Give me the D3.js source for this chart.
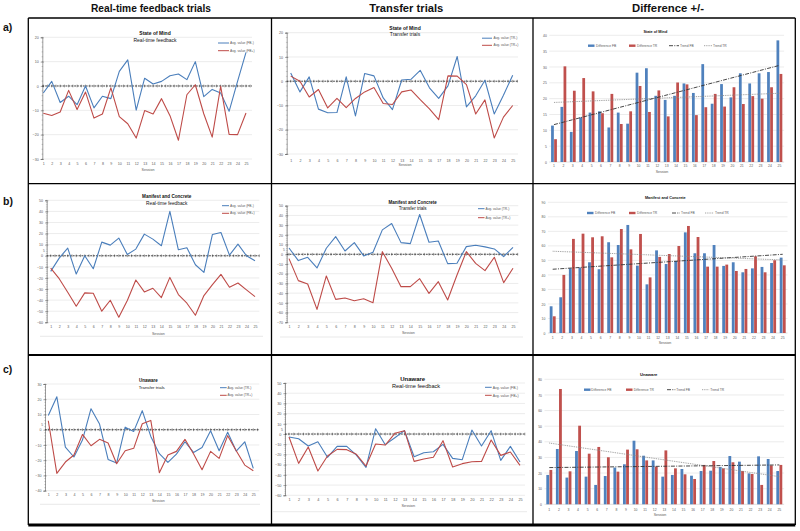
<!DOCTYPE html>
<html><head><meta charset="utf-8">
<script src="https://cdn.jsdelivr.net/npm/d3@7"></script>
<style>
body{margin:0;background:#fff}
svg{display:block}
text{font-family:"Liberation Sans",Arial,sans-serif}
</style>
</head><body>
<svg id="c" width="800" height="531"></svg>
<script>
// ---------------- DATA ----------------
const sessions = [1,2,3,4,5,6,7,8,9,10,11,12,13,14,15,16,17,18,19,20,21,22,23,24,25];
const columnHeaders = ["Real-time feedback trials","Transfer trials","Difference +/-"];
const rowLabels = ["a)","b)","c)"];

// a) State of Mind
const somFBneg = [-2.9,1.9,-6.8,-4.2,-7.7,0,-9.0,-4.2,-5.2,6.0,10.7,-9.9,3.2,0.8,1.9,4.2,4.9,2.6,10,-4.4,-1.4,-2.9,-10.4,1.9,13.8];
const somFBpos = [-11.2,-12.1,-10.7,-1.8,-9.7,-2.5,-13.2,-11.5,-0.8,-12.6,-15.5,-21.4,-10.1,-11.5,-5.2,-12.2,-22.3,-3.6,0.5,-11.4,-21.0,-0.1,-19.9,-20,-11.1];
const somTRneg = [3.4,-4.4,1.8,-11.5,-13.0,-12.9,1.8,-14.3,3.2,2.2,-6.9,-11.7,0.5,0.8,4.5,-2.7,-7.1,-1.9,10.2,-10.6,-6.0,0.4,-13.5,-5.8,2.5];
const somTRpos = [2.1,0,-6.5,-3.4,-11.0,-7.1,-10.9,-7.1,-4.4,-2.6,-9.2,-9.6,-4.4,-3.6,-7.6,-11.4,-15.8,2.2,2.1,-1.4,-13.5,-7.7,-23.4,-14.8,-10.0];
const somDiffFB = [11.5,17.4,9.5,14.1,15.6,16.0,10.9,15.6,12.1,28.2,29.6,20.9,19.6,20.9,24.8,21.8,30.9,18.4,24.6,20.4,28.0,24.8,28.0,28.4,38.4];
const somDiffTR = [7.2,30.2,22.5,26.5,22.3,15.4,21.5,12.0,16.0,24.0,15.8,22.6,14.4,25.1,24.5,14.8,17.3,21.5,17.5,23.6,18.3,20.8,20.0,23.6,27.8];
const somTrendFB = [11.8,30.5];
const somTrendTR = [18.8,21.7];

// b) Manifest and Concrete
const mcFBneg = [-14.1,-2.1,6.9,-16.5,0,-11.7,12.3,9.6,15.9,1.2,6.0,19.5,15.0,9.0,40.1,5.4,7.2,-8.1,-15.0,19.2,21.0,0.6,10.5,0,-4.5];
const mcFBpos = [-11.1,-20.7,-32.9,-45.5,-33.5,-33.8,-50,-40.1,-55.4,-40.4,-21.9,-32.6,-29.3,-37.7,-19.5,-35.0,-42.8,-53.6,-35.9,-26.0,-16.8,-28.4,-24.6,-30.8,-36.8];
const mcTRneg = [6.5,-6.5,-3.1,-14.1,6.2,18.2,3.4,12.0,-1.7,2.1,25.1,31.6,12.0,11.0,40.9,12.4,13.7,-9.6,-9.3,7.9,9.3,7.6,5.5,-2.4,7.2];
const mcTRpos = [-4.5,-27.1,-30.6,-56.7,-22.3,-46.4,-45.0,-47.8,-45.7,-49.8,2.7,-14.4,-33.3,-33.3,-25.1,-40.2,-28.2,-47.1,-21.3,2.7,-9.3,-16.8,-3.1,-29.2,-14.4];
const mcDiffFB = [18.4,24.6,44.5,45.0,48.7,43.9,62.5,60.6,74.4,46.4,33.5,56.9,47.5,49.6,69.3,54.9,54.9,60.6,46.2,48.7,41.8,44.5,45.5,48.2,51.9];
const mcDiffTR = [11.5,40.0,64.8,68.4,65.9,66.6,52.1,71.6,57.6,68.2,38.3,52.4,54.4,59.9,73.7,66.1,45.7,45.7,47.1,42.7,44.1,52.8,41.8,50.1,46.6];
const mcTrendFB = [43.9,54.2];
const mcTrendTR = [56.3,50.3];

// c) Unaware
const unTRneg = [9.4,21.6,-11.4,-17.9,-6.8,13.8,3.7,-19.5,-21.9,1.7,-1.1,12.5,-4.4,-15.7,-21.4,-16.0,-7.9,-14.9,-11.6,-0.7,-13.8,-1.7,-14.0,-7.9,-25.4];
const unTRpos = [5.9,-28.6,-21.2,-16.6,-3.1,-10.5,-6.3,-8.7,-22.3,-13.8,-12.2,3.9,6.1,-28.2,-16.6,-14.2,-6.3,-15.7,-26.2,-14.2,-18.8,-3.9,-13.8,-23.2,-26.9];
const unFBneg = [-2.9,-4.6,-11.7,-7.5,-22.8,-12.1,-12.1,-20.6,-32.6,5.2,-10.4,-3.6,3.3,-22.2,-18.3,-17.3,-10.1,-23.8,-25.1,3.9,-11.7,3.3,-25.8,-12.1,-27.4];
const unFBpos = [-2.9,-28.7,-12.7,-36.2,-21.5,-15.0,-15.3,-19.9,-31.3,-9.8,-10.8,0.7,3.3,-26.8,-24.5,-22.8,-6.5,-32.3,-29.0,-27.1,-26.8,-5.9,-20.9,-17.6,-30.7];
const unDiffFB = [18.8,35.4,17.1,34.1,17.7,12.4,18.1,23.5,25.6,40.7,31.1,28.1,17.7,18.8,22.6,18.3,21.3,21.5,23.9,30.9,27.3,19.8,30.7,29.0,21.3];
const unDiffTR = [22.0,73.8,21.1,50.3,32.4,36.7,30.1,20.9,35.0,35.2,28.1,24.1,34.5,23.0,19.2,16.2,25.2,27.7,23.0,26.9,21.3,19.4,12.4,24.9,25.2];
const unTrendFB = [23.5,25.2];
const unTrendTR = [39.2,17.7];

// axis tick labels
const ticksSom = [20,10,0,-10,-20,-30];
const ticksMcFB = [50,40,30,20,10,0,-10,-20,-30,-40,-50,-60];
const ticksMcTR = [50,40,30,20,10,0,-10,-20,-30,-40,-50,-60,-70];
const ticksUnTR = [30,20,10,0,-10,-20,-30,-40];
const ticksUnFB = [50,40,30,20,10,0,-10,-20,-30,-40,-50,-60];
const ticksSomDiff = [40,35,30,25,20,15,10,5,0];
const ticksMcDiff = [90,80,70,60,50,40,30,20,10,0];
const ticksUnDiff = [80,70,60,50,40,30,20,10,0];

// ---------------- STYLE ----------------
const BLUE_L = "#4a7ebb", RED_L = "#be4b48";
const BLUE_B = "#4f81bd", RED_B = "#c0504d";
const LABEL = "#595959", GRID = "#d9d9d9";

const svg = d3.select("#c");

// ---------------- FRAME ----------------
const colX = [28.3, 271.5, 533, 795.3];
const rowY = [18, 183.6, 355, 525];
const frame = svg.append("g");
colX.forEach(x => frame.append("line").attr("x1", x).attr("x2", x).attr("y1", rowY[0]).attr("y2", rowY[3])
  .attr("stroke", "#000").attr("stroke-width", 1.3));
rowY.forEach((y, i) => frame.append("line").attr("x1", colX[0]).attr("x2", colX[3]).attr("y1", y).attr("y2", y)
  .attr("stroke", "#000").attr("stroke-width", i === 3 ? 3 : (i === 2 ? 2 : 1.3)));

const headerPos = [{x:151, w:120}, {x:406.3, w:74}, {x:668, w:72}];
columnHeaders.forEach((h, i) => svg.append("text").attr("x", headerPos[i].x).attr("y", 12.2)
  .attr("text-anchor", "middle").attr("font-size", 11.5).attr("font-weight", "bold").attr("fill", "#111")
  .attr("textLength", headerPos[i].w).attr("lengthAdjust", "spacingAndGlyphs").text(h));
const rowLabelY = [30.5, 205, 373];
rowLabels.forEach((r, i) => svg.append("text").attr("x", 3).attr("y", rowLabelY[i])
  .attr("font-size", 10.5).attr("font-weight", "bold").attr("fill", "#111").text(r));

// ---------------- LINE CHARTS ----------------
function lineChart(o) {
  const g = svg.append("g");
  const lfs = o.lfs || 3.6;
  const x = d3.scalePoint().domain(sessions).range([o.x1, o.xN]);
  const y = d3.scaleLinear().domain([o.ticks[o.ticks.length - 1], o.ticks[0]]).range([o.yBotPx, o.yTopPx]);
  if (o.border) g.append("line").attr("x1", o.border[0]).attr("x2", o.border[1]).attr("y1", o.border[2]).attr("y2", o.border[2])
    .attr("stroke", "#e3e3e3").attr("stroke-width", 0.8);
  g.append("g").selectAll("line").data(o.ticks).join("line")
    .attr("x1", o.axisX).attr("x2", o.right).attr("y1", d => y(d)).attr("y2", d => y(d))
    .attr("stroke", GRID).attr("stroke-width", 0.5);
  // minor ticks on y axis
  const step = o.ticks[0] - o.ticks[1];
  const minor = d3.range(o.ticks[o.ticks.length - 1], o.ticks[0] + 0.001, step / 5);
  g.append("g").selectAll("line").data(minor).join("line")
    .attr("x1", o.axisX - 0.8).attr("x2", o.axisX + 0.8).attr("y1", d => y(d)).attr("y2", d => y(d))
    .attr("stroke", "#7f7f7f").attr("stroke-width", 0.35);
  const ya = g.append("g").attr("transform", `translate(${o.axisX},0)`)
    .call(d3.axisLeft(y).tickValues(o.ticks).tickSize(1.6).tickPadding(2).tickFormat(d3.format("d")));
  ya.select(".domain").attr("stroke", "#595959").attr("stroke-width", 0.6);
  ya.selectAll(".tick line").attr("x1", 1.6).attr("stroke", "#595959").attr("stroke-width", 0.5);
  ya.selectAll(".tick text").attr("font-size", lfs).attr("fill", LABEL).attr("font-family", "Liberation Sans, Arial, sans-serif");
  if (o.five) g.append("text").attr("x", o.axisX - 2).attr("y", y(0) - 4.5).attr("dy", "0.35em")
    .attr("text-anchor", "end").attr("font-size", lfs * 0.9).attr("fill", LABEL).text("5");
  // zero axis (dashed) with tick marks
  g.append("line").attr("x1", o.axisX).attr("x2", o.right).attr("y1", y(0)).attr("y2", y(0))
    .attr("stroke", "#222").attr("stroke-width", 0.8).attr("stroke-dasharray", "1.8,1.1");
  const half = (o.xN - o.x1) / 48;
  const zt = [];
  sessions.forEach(s => { zt.push(x(s)); zt.push(x(s) + half); });
  g.append("g").selectAll("line").data(zt).join("line")
    .attr("x1", d => d).attr("x2", d => d).attr("y1", y(0) - 1.4).attr("y2", y(0) + 1.4)
    .attr("stroke", "#333").attr("stroke-width", 0.45);
  // x labels
  const xa = g.append("g").attr("transform", `translate(0,${o.labelY})`)
    .call(d3.axisBottom(x).tickSize(0).tickPadding(0));
  xa.select(".domain").remove();
  xa.selectAll(".tick text").attr("dy", "0.35em").attr("font-size", lfs).attr("fill", LABEL)
    .attr("font-family", "Liberation Sans, Arial, sans-serif");
  g.append("text").attr("x", o.sessionX).attr("y", o.sessionY).attr("dy", "0.35em").attr("text-anchor", "middle")
    .attr("font-size", lfs).attr("fill", LABEL).text("Session");
  // series
  const line = d3.line().x((d, i) => x(sessions[i])).y(d => y(d));
  o.series.forEach(s => g.append("path").datum(s.vals).attr("d", line).attr("fill", "none")
    .attr("stroke", s.color).attr("stroke-width", 1.1).attr("stroke-linejoin", "round"));
  // titles
  g.append("text").attr("x", o.titleX).attr("y", o.titleY).attr("dy", "0.35em").attr("text-anchor", "middle")
    .attr("font-size", o.tfs).attr("font-weight", "bold").attr("fill", "#111").text(o.title);
  g.append("text").attr("x", o.subX || o.titleX).attr("y", o.subY).attr("dy", "0.35em").attr("text-anchor", "middle")
    .attr("font-size", o.sfs).attr("fill", "#111").text(o.sub);
  // legend
  o.series.forEach((s, i) => {
    g.append("line").attr("x1", o.legLine[0]).attr("x2", o.legLine[1]).attr("y1", o.legY[i]).attr("y2", o.legY[i])
      .attr("stroke", s.color).attr("stroke-width", 1);
    g.append("text").attr("x", o.legText).attr("y", o.legY[i]).attr("dy", "0.35em")
      .attr("font-size", o.legfs || 3.3).attr("fill", LABEL).text(s.name);
  });
}

// ---------------- BAR CHARTS ----------------
function barChart(o) {
  const g = svg.append("g");
  const lfs = o.lfs || 3.4;
  const x = d3.scaleBand().domain(sessions).range([o.left, o.right]).paddingInner(0.38).paddingOuter(0.19);
  const xs = d3.scaleBand().domain(["FB", "TR"]).range([0, x.bandwidth()]).paddingInner(0.1);
  const y = d3.scaleLinear().domain([0, o.ticks[0]]).range([o.y0Px, o.yTopPx]);
  g.append("g").selectAll("line").data(o.ticks).join("line")
    .attr("x1", o.left).attr("x2", o.right).attr("y1", d => y(d)).attr("y2", d => y(d))
    .attr("stroke", d => d === 0 ? "#bfbfbf" : GRID).attr("stroke-width", 0.5);
  const ya = g.append("g").attr("transform", `translate(${o.left},0)`)
    .call(d3.axisLeft(y).tickValues(o.ticks).tickSize(0).tickPadding(o.ypad || 2.5));
  ya.select(".domain").remove();
  ya.selectAll(".tick text").attr("font-size", lfs).attr("fill", LABEL).attr("font-family", "Liberation Sans, Arial, sans-serif");
  const xa = g.append("g").attr("transform", `translate(0,${o.labelY})`)
    .call(d3.axisBottom(x).tickSize(0).tickPadding(0));
  xa.select(".domain").remove();
  xa.selectAll(".tick text").attr("dy", "0.35em").attr("font-size", lfs).attr("fill", LABEL)
    .attr("font-family", "Liberation Sans, Arial, sans-serif");
  g.append("text").attr("x", o.sessionX).attr("y", o.sessionY).attr("dy", "0.35em").attr("text-anchor", "middle")
    .attr("font-size", lfs * 1.05).attr("fill", LABEL).text("Session");
  // bars
  const series = [{key: "FB", vals: o.fb, color: BLUE_B}, {key: "TR", vals: o.tr, color: RED_B}];
  series.forEach(s => {
    g.append("g").selectAll("rect").data(s.vals).join("rect")
      .attr("x", (d, i) => x(sessions[i]) + xs(s.key)).attr("width", xs.bandwidth())
      .attr("y", d => y(d)).attr("height", d => y(0) - y(d)).attr("fill", s.color);
  });
  // trend lines
  const tl = d3.line().x(d => x(d[0]) + x.bandwidth() / 2).y(d => y(d[1]));
  const first = sessions[0], last = sessions[sessions.length - 1];
  g.append("path").datum([[first, o.trendTR[0]], [last, o.trendTR[1]]]).attr("d", tl)
    .attr("stroke", "#8a8a8a").attr("stroke-width", 0.9).attr("stroke-dasharray", "0.9,0.9").attr("fill", "none");
  g.append("path").datum([[first, o.trendFB[0]], [last, o.trendFB[1]]]).attr("d", tl)
    .attr("stroke", "#333").attr("stroke-width", 0.9).attr("stroke-dasharray", "4,1.3,1,1.3").attr("fill", "none");
  // title
  g.append("text").attr("x", o.titleX).attr("y", o.titleY).attr("dy", "0.35em").attr("text-anchor", "middle")
    .attr("font-size", o.tfs).attr("font-weight", "bold").attr("fill", "#111").text(o.title);
  // legend
  const L = o.leg, ly = o.legY, lf = 3.3;
  g.append("rect").attr("x", L[0]).attr("y", ly - 1.2).attr("width", 6.5).attr("height", 2.4).attr("fill", BLUE_B);
  g.append("text").attr("x", L[1]).attr("y", ly).attr("dy", "0.35em").attr("font-size", lf).attr("fill", LABEL).text("Difference FB");
  g.append("rect").attr("x", L[2]).attr("y", ly - 1.2).attr("width", 6.5).attr("height", 2.4).attr("fill", RED_B);
  g.append("text").attr("x", L[3]).attr("y", ly).attr("dy", "0.35em").attr("font-size", lf).attr("fill", LABEL).text("Difference TR");
  g.append("line").attr("x1", L[4]).attr("x2", L[5] - 1).attr("y1", ly).attr("y2", ly)
    .attr("stroke", "#333").attr("stroke-width", 0.9).attr("stroke-dasharray", "4,1.3,1,1.3");
  g.append("text").attr("x", L[5]).attr("y", ly).attr("dy", "0.35em").attr("font-size", lf).attr("fill", LABEL).text("Trend FB");
  g.append("line").attr("x1", L[6]).attr("x2", L[7] - 1).attr("y1", ly).attr("y2", ly)
    .attr("stroke", "#8a8a8a").attr("stroke-width", 0.9).attr("stroke-dasharray", "0.9,0.9");
  g.append("text").attr("x", L[7]).attr("y", ly).attr("dy", "0.35em").attr("font-size", lf).attr("fill", LABEL).text("Trend TR");
}

// ---------------- DRAW ----------------
lineChart({axisX:42.3, x1:43.3, xN:246, right:252, ticks:ticksSom, yTopPx:37.3, yBotPx:159,
  labelY:164, sessionX:148, sessionY:170, title:"State of Mind", sub:"Real-time feedback",
  titleX:155, titleY:33.3, subY:40.7, tfs:5, sfs:5, legLine:[218,229], legText:230, legY:[43,50.7],
  series:[{vals:somFBneg, color:BLUE_L, name:"Avg. value (FB-)"},{vals:somFBpos, color:RED_L, name:"Avg. value (FB+)"}]});

lineChart({axisX:286.7, x1:290.7, xN:512.7, right:518, ticks:ticksSom, yTopPx:32.7, yBotPx:154,
  labelY:160.3, sessionX:405, sessionY:164.7, title:"State of Mind", sub:"Transfer trials",
  titleX:405, titleY:28.6, subY:34.7, tfs:5, sfs:5, legLine:[482,492], legText:493.5, legY:[38.2,45.3],
  series:[{vals:somTRneg, color:BLUE_L, name:"Avg. value (TR-)"},{vals:somTRpos, color:RED_L, name:"Avg. value (TR+)"}]});

barChart({left:549.3, right:784.1, ticks:ticksSomDiff, yTopPx:35.3, y0Px:162, labelY:166, sessionX:662, sessionY:172,
  title:"State of Mind", titleX:655.3, titleY:31.3, tfs:3.8, legY:45.7, leg:[588,596,629,637,669,680,704,713],
  fb:somDiffFB, tr:somDiffTR, trendFB:somTrendFB, trendTR:somTrendTR});

lineChart({axisX:46.7, x1:50.7, xN:255, right:259.3, ticks:ticksMcFB, yTopPx:200.3, yBotPx:322.3,
  labelY:327, sessionX:158.3, sessionY:333.7, title:"Manifest and Concrete", sub:"Real-time feedback",
  titleX:166.7, titleY:196.3, subY:203, tfs:4.6, sfs:4.8, legLine:[222,229], legText:230, legY:[205.7,213.3],
  five:true, border:[40,263,336.3],
  series:[{vals:mcFBneg, color:BLUE_L, name:"Avg. value (FB-)"},{vals:mcFBpos, color:RED_L, name:"Avg. value (FB+)"}]});

lineChart({axisX:286.7, x1:289, xN:513, right:518.3, ticks:ticksMcTR, yTopPx:205.7, yBotPx:322.3,
  labelY:327, sessionX:408.3, sessionY:333, title:"Manifest and Concrete", sub:"Transfer trials",
  titleX:412.7, titleY:202, subY:208.7, tfs:4.5, sfs:4.6, legLine:[478,484.5], legText:485.5, legY:[208.7,217.7],
  five:true, border:[280,523,337],
  series:[{vals:mcTRneg, color:BLUE_L, name:"Avg. value (TR-)"},{vals:mcTRpos, color:RED_L, name:"Avg. value (TR+)"}]});

barChart({left:547.9, right:787.5, ticks:ticksMcDiff, yTopPx:202.3, y0Px:333, labelY:338, sessionX:665, sessionY:343,
  title:"Manifest and Concrete", titleX:665.3, titleY:198, tfs:3.8, legY:213, leg:[587,595,629,637,672,681,705,715],
  fb:mcDiffFB, tr:mcDiffTR, trendFB:mcTrendFB, trendTR:mcTrendTR});

lineChart({axisX:45, x1:48.3, xN:253.3, right:259.3, ticks:ticksUnTR, yTopPx:384, yBotPx:490.7,
  labelY:495, sessionX:158.3, sessionY:500.7, title:"Unaware", sub:"Transfer trials",
  titleX:148.3, subX:151.7, titleY:380.7, subY:387, tfs:4.5, sfs:4.3, legLine:[220,226.7], legText:227.5, legY:[387.7,395.3],
  five:true, border:[40,260,504.3],
  series:[{vals:unTRneg, color:BLUE_L, name:"Avg. value (TR-)"},{vals:unTRpos, color:RED_L, name:"Avg. value (TR+)"}]});

lineChart({axisX:285, x1:289, xN:520, right:525, ticks:ticksUnFB, yTopPx:383, yBotPx:495.3,
  labelY:500, sessionX:408.3, sessionY:505.7, title:"Unaware", sub:"Real-time feedback",
  titleX:412.7, subX:416, titleY:379, subY:385.7, tfs:6, sfs:5.6, legLine:[485,491.7], legText:492.7, legY:[387.3,395.3],
  five:true, border:[273,527,511.7], lfs:3.8, legfs:3.5,
  series:[{vals:unFBneg, color:BLUE_L, name:"Avg. value (FB-)"},{vals:unFBpos, color:RED_L, name:"Avg. value (FB+)"}]});

barChart({left:544.5, right:784.1, ticks:ticksUnDiff, yTopPx:379.3, y0Px:504.3, labelY:509.3, sessionX:660, sessionY:514.3,
  title:"Unaware", titleX:648.7, titleY:375, tfs:4.2, legY:389.7, leg:[584,591.3,626,633.7,667,676.3,702,710.3],
  fb:unDiffFB, tr:unDiffTR, trendFB:unTrendFB, trendTR:unTrendTR});
</script>
</body></html>
